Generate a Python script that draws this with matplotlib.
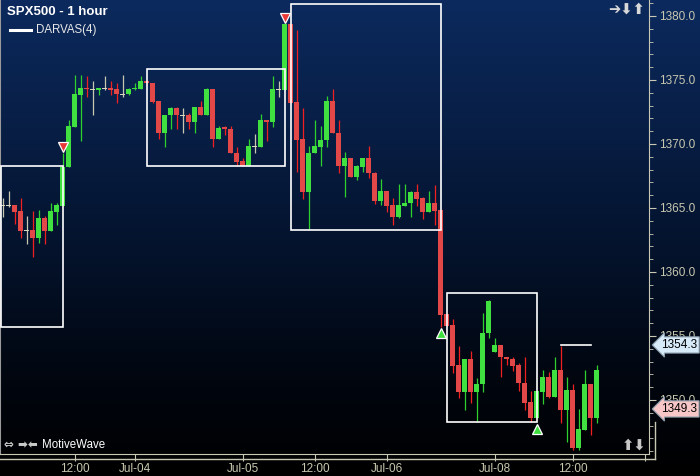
import matplotlib
matplotlib.use('Agg')
import matplotlib.pyplot as plt
import matplotlib.transforms as mtransforms
from matplotlib.patches import Rectangle
from matplotlib.lines import Line2D
from matplotlib.colors import LinearSegmentedColormap
import numpy as np

plt.rcParams['font.family'] = ['Liberation Sans', 'DejaVu Sans']

# hourly candles, SPX500
opens = [1365.18, 1365.18, 1365.23, 1364.77, 1363.20, 1363.28, 1362.66, 1364.22, 1363.20, 1364.69,
         1365.16, 1368.20, 1371.33, 1373.83, 1374.34, 1374.22, 1374.22, 1374.30, 1374.38, 1374.30,
         1373.83, 1373.91, 1374.26, 1374.30, 1374.92, 1374.77, 1373.36, 1370.86, 1372.27, 1372.81,
         1372.19, 1372.27, 1371.72, 1372.89, 1372.27, 1374.30, 1370.39, 1371.29, 1371.17, 1369.30,
         1368.67, 1368.28, 1369.77, 1369.77, 1371.88, 1371.72, 1374.22, 1374.22, 1379.38, 1373.28,
         1370.39, 1366.25, 1369.30, 1369.77, 1370.31, 1373.36, 1370.86, 1368.28, 1368.91, 1367.42,
         1368.20, 1368.91, 1367.73, 1365.55, 1366.33, 1365.23, 1364.30, 1365.16, 1365.39, 1366.25,
         1365.78, 1364.69, 1365.39, 1364.84, 1356.72, 1355.86, 1352.73, 1350.63, 1353.20, 1350.63,
         1351.25, 1355.23, 1353.75, 1354.30, 1353.36, 1353.20, 1352.73, 1351.33, 1349.84, 1348.59,
         1350.63, 1351.80, 1350.23, 1352.34, 1349.22, 1350.78, 1346.25, 1347.66, 1351.25, 1348.59]
highs = [1365.78, 1366.33, 1365.23, 1365.78, 1364.37, 1364.77, 1364.84, 1364.37, 1365.39, 1365.39,
         1369.30, 1371.88, 1375.39, 1375.39, 1375.31, 1374.92, 1374.38, 1375.31, 1374.92, 1374.77,
         1375.39, 1374.41, 1374.77, 1375.31, 1374.92, 1374.77, 1373.36, 1372.27, 1372.89, 1372.89,
         1372.81, 1372.42, 1372.89, 1373.36, 1374.38, 1374.30, 1371.41, 1371.41, 1371.41, 1369.77,
         1368.91, 1370.39, 1370.78, 1372.34, 1371.88, 1375.31, 1374.92, 1379.38, 1379.38, 1378.91,
         1372.81, 1369.84, 1371.88, 1371.41, 1373.75, 1374.30, 1371.88, 1369.38, 1368.91, 1368.36,
         1368.91, 1369.84, 1367.81, 1367.27, 1366.33, 1365.78, 1366.88, 1366.88, 1366.33, 1366.88,
         1365.86, 1366.33, 1366.80, 1364.84, 1356.72, 1356.33, 1354.22, 1353.20, 1353.83, 1351.72,
         1356.80, 1357.81, 1354.84, 1354.30, 1353.36, 1353.36, 1352.89, 1353.36, 1350.70, 1350.70,
         1352.34, 1352.19, 1353.36, 1354.22, 1351.80, 1351.25, 1349.30, 1352.34, 1351.25, 1352.73]
lows = [1364.30, 1365.08, 1363.75, 1362.66, 1362.19, 1361.17, 1362.27, 1362.19, 1363.20, 1363.67,
        1365.16, 1368.20, 1371.33, 1370.23, 1373.67, 1372.27, 1373.83, 1374.22, 1373.83, 1373.20,
        1373.67, 1373.83, 1374.22, 1374.30, 1374.77, 1373.20, 1370.39, 1369.77, 1371.17, 1371.17,
        1370.86, 1371.17, 1370.86, 1372.27, 1372.27, 1369.77, 1370.39, 1370.70, 1369.30, 1368.28,
        1368.28, 1368.28, 1369.30, 1369.77, 1370.23, 1371.33, 1373.67, 1374.22, 1373.20, 1367.81,
        1365.70, 1363.28, 1369.30, 1368.28, 1369.77, 1370.86, 1367.73, 1365.86, 1367.42, 1367.19,
        1367.81, 1367.34, 1365.31, 1365.23, 1364.69, 1363.67, 1364.22, 1365.16, 1364.30, 1365.16,
        1364.14, 1364.69, 1363.67, 1355.70, 1355.78, 1352.11, 1350.16, 1349.22, 1349.77, 1348.28,
        1350.63, 1354.84, 1353.75, 1351.80, 1352.73, 1352.27, 1350.70, 1349.22, 1348.28, 1348.59,
        1349.69, 1350.16, 1350.23, 1348.20, 1346.72, 1346.09, 1346.09, 1347.66, 1347.27, 1348.20]
closes = [1365.18, 1365.18, 1364.69, 1363.20, 1363.20, 1362.66, 1364.22, 1363.20, 1364.77, 1365.23,
          1368.20, 1371.41, 1373.91, 1374.38, 1374.26, 1374.22, 1374.38, 1374.30, 1374.22, 1373.91,
          1373.83, 1374.30, 1374.38, 1374.92, 1374.77, 1373.28, 1370.86, 1372.27, 1372.81, 1372.27,
          1372.19, 1371.72, 1372.89, 1372.27, 1374.30, 1370.39, 1371.25, 1371.21, 1369.30, 1368.59,
          1368.28, 1369.84, 1369.77, 1371.88, 1371.72, 1374.30, 1374.22, 1379.38, 1373.20, 1370.31,
          1366.25, 1369.30, 1369.84, 1370.31, 1373.36, 1370.86, 1368.28, 1368.91, 1367.42, 1368.28,
          1368.91, 1367.73, 1365.55, 1366.33, 1365.16, 1364.30, 1365.23, 1365.39, 1366.25, 1365.70,
          1364.69, 1365.39, 1364.77, 1356.64, 1355.78, 1352.66, 1350.63, 1353.20, 1350.63, 1351.25,
          1355.23, 1357.73, 1354.30, 1353.36, 1353.20, 1352.66, 1351.33, 1349.77, 1348.59, 1350.70,
          1351.80, 1350.23, 1352.34, 1349.22, 1350.78, 1346.25, 1347.73, 1351.25, 1348.59, 1352.34]

tick_idx = [12, 22, 40, 52, 64, 82, 95, 107]
tick_labels = ['12:00', 'Jul-04', 'Jul-05', '12:00', 'Jul-06', 'Jul-08', '12:00', '']

# DARVAS(4) boxes
box_left = [-0.3, 24, 48, 74]
box_right = [10, 47, 73, 89]
box_top = [1368.28, 1375.84, 1380.91, 1358.34]
box_bottom = [1355.70, 1368.26, 1363.28, 1348.26]
open_box = (93, 98, 1354.3)

sell_idx = [10, 47]
sell_price = [1369.77, 1379.84]
buy_idx = [73, 89]
buy_price = [1355.23, 1347.73]

tag_prices = [1354.3, 1349.3]
tag_colors = ['#d6eaf8', '#f7c6c6']

W, H = 700, 476
fig = plt.figure(figsize=(7, 4.76), dpi=100)

# background gradient
bg = fig.add_axes([0, 0, 1, 1])
cmap = LinearSegmentedColormap.from_list('bg', [(0, '#0c2a5e'), (0.45, '#051634'),
                                                (0.8, '#01060f'), (1, '#000000')])
bg.imshow(np.linspace(0, 1, 256).reshape(-1, 1), aspect='auto', cmap=cmap,
          extent=[0, 1, 0, 1])
bg.axis('off')

ax = fig.add_axes([0, 22 / H, 649.3 / W, 454 / H])
ax.set_facecolor('none')
ax.set_xlim(-0.45, 107.77)
ax.set_ylim(1345.78, 1381.25)

x = np.arange(len(opens))
o = np.array(opens); c = np.array(closes)
up = c > o
down = c < o
body_col = np.where(up, '#3fe03f', np.where(down, '#e24848', '#d8d8c0'))
wick_col = np.where(up, '#2ed02e', np.where(down, '#f02020', '#c8c8b0'))

ax.vlines(x, lows, highs, colors=wick_col, linewidth=0.9, zorder=2)
ax.bar(x, np.maximum(np.abs(c - o), 0.09), bottom=np.minimum(o, c), width=0.8,
       color=body_col, linewidth=0, zorder=3)

# boxes
for l, r, t, b in zip(box_left, box_right, box_top, box_bottom):
    ax.add_patch(Rectangle((l, b), r - l, t - b, fill=False, ec='white', lw=1.2, zorder=4))
ax.plot([open_box[0], open_box[1]], [open_box[2]] * 2, color='white', lw=1.2, zorder=4)

ax.plot(sell_idx, sell_price, 'v', ms=7, mfc='#e83838', mec='white', mew=0.9, zorder=5)
ax.plot(buy_idx, buy_price, '^', ms=7, mfc='#3ee03e', mec='white', mew=0.9, zorder=5)

# axes styling
axis_col = '#c8c8b4'
ax.spines['top'].set_visible(False)
ax.spines['right'].set_color(axis_col)
ax.spines['bottom'].set_color(axis_col)
ax.spines['left'].set_color('#9a9a9a')
ax.spines['left'].set_linewidth(1.5)

ax.yaxis.tick_right()
ax.set_yticks(np.arange(1350, 1381, 5))
ax.set_yticks(np.arange(1346, 1382, 1), minor=True)
ax.yaxis.set_major_formatter(matplotlib.ticker.FormatStrFormatter('%.1f'))
ax.tick_params(axis='y', which='major', length=5, color=axis_col, labelcolor='#c8c8b0',
               labelsize=8.5, pad=2)
ax.tick_params(axis='y', which='minor', length=3, color=axis_col)
ax.set_xticks(tick_idx)
ax.set_xticklabels(tick_labels)
ax.tick_params(axis='x', length=5, color=axis_col, labelcolor='#c8c8b0', labelsize=8.5, pad=1.5)

# time axis frame line
fig.add_artist(Line2D([0, 655 / W], [1 - 459 / H] * 2, color=axis_col, lw=1))
fig.add_artist(Line2D([655 / W] * 2, [1 - 459 / H, 1 - 422 / H], color=axis_col, lw=1))

# price tags
trans = mtransforms.blended_transform_factory(ax.transAxes, ax.transData)
for p, col in zip(tag_prices, tag_colors):
    ax.text(1.018, p, f'{p:.1f}', transform=trans, ha='left', va='center', fontsize=8.5,
            color='black', clip_on=False, zorder=6,
            bbox=dict(boxstyle='larrow,pad=0.18', fc=col, ec='#8a9aa8', lw=0.8))

# title and legend
fig.text(7 / W, 1 - 12 / H, 'SPX500 - 1 hour', color='white', fontsize=9.5,
         fontweight='bold', va='center', ha='left')
fig.add_artist(Line2D([10 / W, 31 / W], [1 - 29.5 / H] * 2, color='white', lw=2.2))
fig.text(36 / W, 1 - 30 / H, 'DARVAS(4)', color='#e8e8e8', fontsize=8.3, va='center', ha='left')

fig.text(645 / W, 1 - 9 / H, '➔⬇⬆', color='#d8d8d8', fontsize=10.5, fontweight='bold',
         family=['DejaVu Sans'], ha='right', va='center')
fig.text(646 / W, 1 - 445 / H, '⬆⬇', color='#c8c8c8', fontsize=10.5, fontweight='bold',
         family=['DejaVu Sans'], ha='right', va='center')
fig.text(4 / W, 1 - 445 / H, '⇔ ➡⬅', color='#c8c8c8', fontsize=8.5, fontweight='bold',
         family=['DejaVu Sans'], ha='left', va='center')
fig.text(42 / W, 1 - 445 / H, 'MotiveWave', color='white', fontsize=8.3, ha='left', va='center')

fig.savefig('out.png', dpi=100)
